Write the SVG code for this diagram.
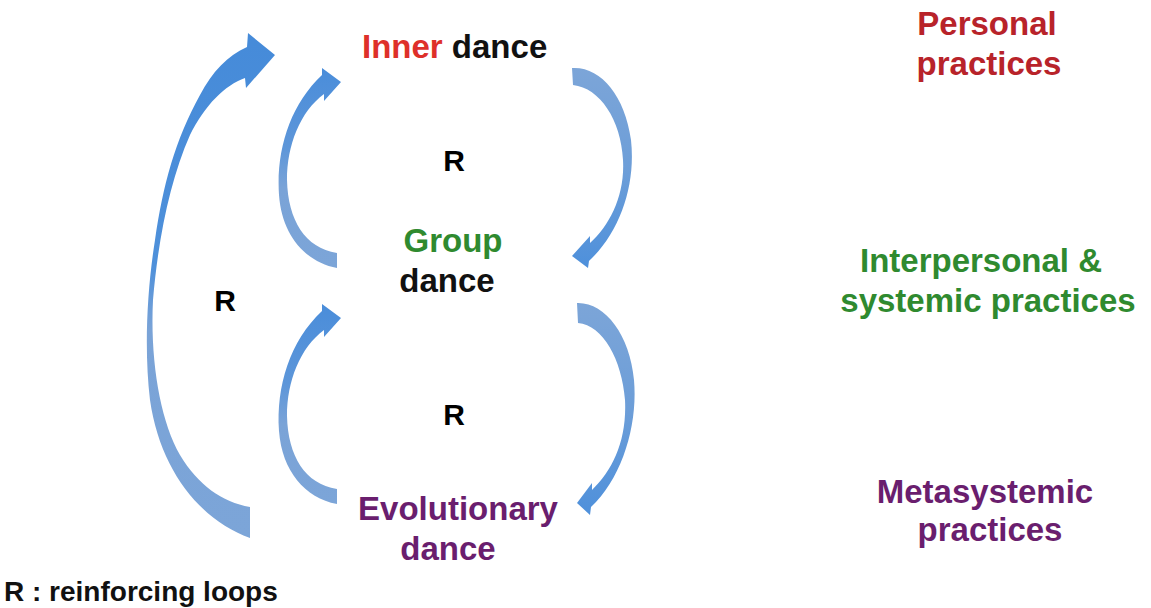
<svg xmlns="http://www.w3.org/2000/svg" width="1151" height="608" viewBox="0 0 1151 608">
<style>
text{font-family:"Liberation Sans",Arial,sans-serif;font-weight:bold;}
.lbl{font-size:33px;}
.r{font-size:30px;fill:#000;text-anchor:middle;}
.mid{text-anchor:middle;}
.red{fill:#DE302A;}
.dred{fill:#B8232A;}
.blk{fill:#111;}
.grn{fill:#2F8A2F;}
.pur{fill:#6A1E6E;}
</style>
<defs>
<linearGradient id="gBig" gradientUnits="userSpaceOnUse" x1="0" y1="40" x2="0" y2="540">
<stop offset="0" stop-color="#468BD9"/>
<stop offset="0.45" stop-color="#4E90DA"/>
<stop offset="0.58" stop-color="#7AA3D7"/>
<stop offset="1" stop-color="#7CA5D8"/>
</linearGradient>
<linearGradient id="gLeft" x1="0" y1="0" x2="0" y2="1">
<stop offset="0" stop-color="#4A8DDA"/>
<stop offset="0.4" stop-color="#5D96D9"/>
<stop offset="0.6" stop-color="#7AA3D7"/>
<stop offset="1" stop-color="#7CA5D8"/>
</linearGradient>
<linearGradient id="gRight" x1="0" y1="0" x2="0" y2="1">
<stop offset="0" stop-color="#7CA5D8"/>
<stop offset="0.5" stop-color="#6D9ED8"/>
<stop offset="1" stop-color="#4E90DB"/>
</linearGradient>
</defs>
<rect width="1151" height="608" fill="#fff"/>
<g id="connectors">
<path id="big-loop" fill="url(#gBig)" d="M 250,538 C 200,520 160,470 150,400 C 144,350 147,290 155,240 C 163,185 175,140 200,95 C 212,72 228,55 247,47 L 248,33 L 275,55 L 246,88 L 245,78 C 225,85 205,105 190,135 C 170,180 158,240 153,300 C 150,360 160,420 180,455 C 198,485 222,502 250,507 Z"/>
<path id="group-to-inner" fill="url(#gLeft)" d="M 337,268 C 305,262 282,235 279,195 C 276,150 290,105 322,75 L 322,68 L 341,82 L 324,101 L 324,94 C 300,112 287,145 287,180 C 288,220 305,248 337,253 Z"/>
<path id="evo-to-group" fill="url(#gLeft)" transform="translate(0,236)" d="M 337,268 C 305,262 282,235 279,195 C 276,150 290,105 322,75 L 322,68 L 341,82 L 324,101 L 324,94 C 300,112 287,145 287,180 C 288,220 305,248 337,253 Z"/>
<path id="inner-to-group" fill="url(#gRight)" d="M 572,68 C 600,66 625,95 631,140 C 636,185 620,232 589,261 L 588,268 L 572,256 L 590,236 L 590,243 C 610,225 625,195 623,160 C 621,120 600,88 573,85 Z"/>
<path id="group-to-evo" fill="url(#gRight)" d="M 577,303 C 605,302 630,335 634,380 C 638,425 622,478 591,507 L 590,515 L 577,503 L 592,483 L 592,490 C 613,470 627,440 625,400 C 622,360 603,325 578,323 Z"/>
</g>
<g id="inner-dance"><text class="lbl" x="362" y="58"><tspan class="red">Inner</tspan><tspan class="blk"> dance</tspan></text></g>
<g id="group-dance"><text class="lbl grn mid" x="453" y="252">Group</text><text class="lbl blk mid" x="447" y="292">dance</text></g>
<g id="evolutionary-dance"><text class="lbl pur mid" x="458" y="520">Evolutionary</text><text class="lbl pur mid" x="448" y="560">dance</text></g>
<g id="loop-labels"><text class="r" x="454" y="171">R</text><text class="r" x="225" y="311">R</text><text class="r" x="454" y="425">R</text></g>
<g id="personal-practices"><text class="lbl dred mid" x="987" y="35">Personal</text><text class="lbl dred mid" x="989" y="75">practices</text></g>
<g id="interpersonal-practices"><text class="lbl grn mid" x="981" y="272">Interpersonal &amp;</text><text class="lbl grn mid" x="988" y="312">systemic practices</text></g>
<g id="metasystemic-practices"><text class="lbl pur mid" x="985" y="503">Metasystemic</text><text class="lbl pur mid" x="990" y="541">practices</text></g>
<g id="legend"><text x="4" y="601" style="font-size:28px" class="blk">R : reinforcing loops</text></g>
</svg>
